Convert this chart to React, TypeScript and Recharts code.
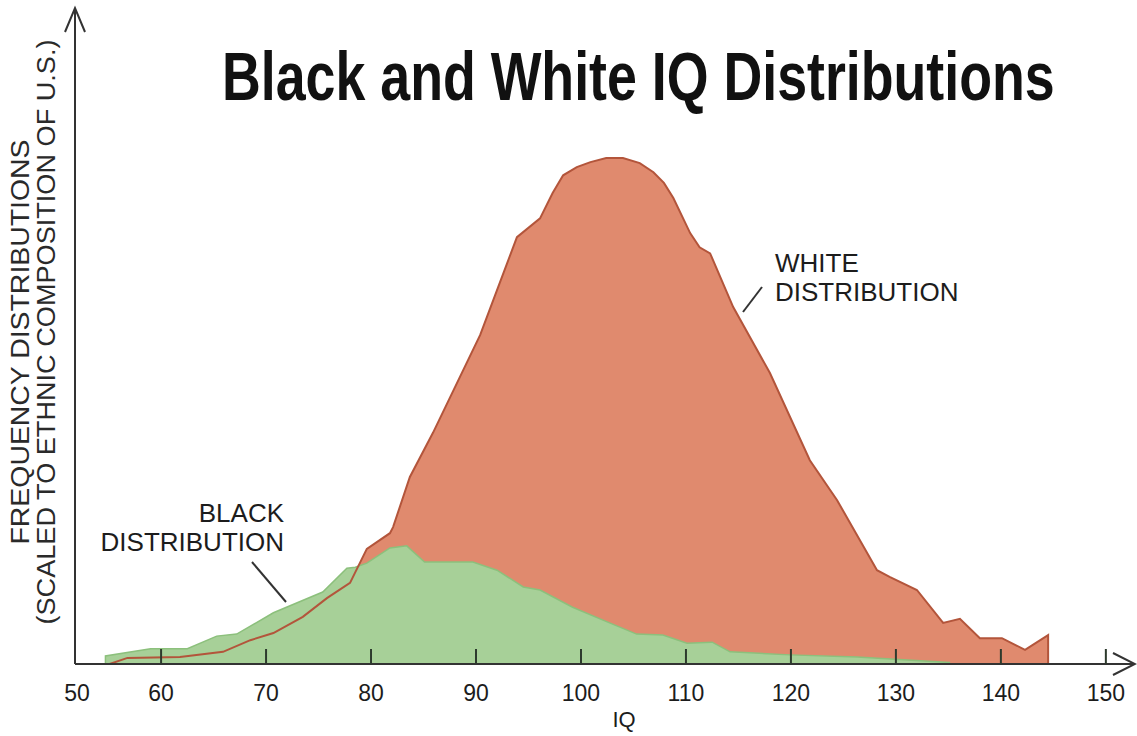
import { Area, ComposedChart, Line, XAxis, YAxis } from "recharts";

// White distribution (IQ, relative frequency; white peak ~= 100)
const whiteIq = [
	55.1, 56.8, 61.8, 65.9, 68.5, 70.7, 73.5, 75.8, 78, 79.6, 81.8, 82.1, 83.7,
	85.9, 90.4, 93.9, 96.1, 97.3, 98.3, 99.6, 100.9, 102.4, 104, 105.6, 106.9,
	107.9, 108.8, 110.4, 111.3, 112.3, 114.5, 118, 121.8, 124.4, 128.2, 129.4,
	132, 134.5, 136.1, 138, 140.1, 142.3, 144.5, 144.5,
];
const whiteFreq = [
	0, 1.2, 1.4, 2.4, 4.7, 6.1, 9.3, 13, 16, 22.7, 25.8, 27, 36.9, 45.6, 64.9,
	84.2, 87.9, 92.9, 96.4, 98, 99, 99.8, 99.8, 98.8, 97, 94.9, 91.9, 85, 82.2,
	81, 70.4, 57.4, 40.2, 32.3, 18.5, 17.2, 14.6, 8.1, 8.9, 5.1, 5.1, 2.8, 5.7,
	0,
];

// Black distribution
const blackIq = [
	54.7, 54.7, 59, 62.5, 65.3, 67.2, 70.7, 75.4, 77.7, 78.5, 79.6, 81.8, 83.4,
	85.1, 89.7, 92, 94.5, 96.1, 99.2, 102.5, 105.3, 107.8, 110.1, 112.5, 114.2,
	119.9, 126.3, 135.1, 135.1,
];
const blackFreq = [
	0, 1.6, 3, 3, 5.5, 5.9, 10.1, 14.2, 18.9, 19.1, 19.9, 22.9, 23.3, 20.1, 20.1,
	18.5, 15.2, 14.6, 11.2, 8.3, 5.9, 5.7, 4.1, 4.3, 2.4, 1.8, 1.4, 0.3, 0,
];

const X_MIN = 51.8;
const X_MAX = 152.3;
const xTicks = [X_MIN, 60, 70, 80, 90, 100, 110, 120, 130, 140, 150];
const xTickLabels = ["50", "60", "70", "80", "90", "100", "110", "120", "130", "140", "150"];

const whiteData = whiteIq.map((iq, i) => ({ iq, freq: whiteFreq[i] }));
const blackData = blackIq.map((iq, i) => ({ iq, freq: blackFreq[i] }));

const FONT = "'Liberation Sans', Arial, sans-serif";
const AXIS = "#333";
const INK = "#1c1c1c";

function IqTick(props: any) {
	const { x, y, payload } = props;
	const idx = xTicks.indexOf(payload.value);
	const isOrigin = payload.value === X_MIN;
	return (
		<g>
			{!isOrigin && (
				<line x1={x} x2={x} y1={y} y2={y - 15} stroke="#2d3a2d" strokeWidth={2} />
			)}
			<text
				x={x + (isOrigin ? 2 : 0)}
				y={y + 37}
				textAnchor="middle"
				fontSize={23}
				fontFamily={FONT}
				fill={INK}
			>
				{xTickLabels[idx]}
			</text>
		</g>
	);
}

export default function App() {
	return (
		<div
			style={{
				position: "fixed",
				left: 0,
				top: 0,
				width: 1137,
				height: 736,
				background: "#fff",
				overflow: "hidden",
			}}
		>
			<ComposedChart
				width={1137}
				height={736}
				margin={{ top: 10, right: 7, bottom: 32, left: 65 }}
			>
				<Area
					data={whiteData}
					dataKey="freq"
					type="linear"
					fill="#e08a6e"
					fillOpacity={1}
					stroke="none"
					isAnimationActive={false}
				/>
				<Area
					data={blackData}
					dataKey="freq"
					type="linear"
					fill="#a7d098"
					fillOpacity={1}
					stroke="#8cc07c"
					strokeWidth={1.5}
					isAnimationActive={false}
				/>
				<Line
					data={whiteData}
					dataKey="freq"
					type="linear"
					stroke="#b3553b"
					strokeWidth={2}
					dot={false}
					activeDot={false}
					isAnimationActive={false}
				/>
				<XAxis
					type="number"
					dataKey="iq"
					domain={[X_MIN, X_MAX]}
					ticks={xTicks}
					interval={0}
					tick={<IqTick />}
					tickLine={false}
					tickSize={0}
					tickMargin={0}
					height={40}
					allowDataOverflow
					axisLine={{ stroke: AXIS, strokeWidth: 2 }}
				/>
				<YAxis
					type="number"
					domain={[0, 129]}
					tick={false}
					tickLine={false}
					width={10}
					allowDataOverflow
					axisLine={{ stroke: AXIS, strokeWidth: 2 }}
				/>
			</ComposedChart>

			<svg
				width={1137}
				height={736}
				style={{ position: "absolute", left: 0, top: 0, pointerEvents: "none" }}
			>
				{/* condensed bold title: natural width squeezed horizontally */}
				<g transform="translate(222,100) scale(0.79,1)">
					<text
						x={0}
						y={0}
						fontSize={68}
						fontWeight="bold"
						fontFamily={FONT}
						fill="#111"
						textLength={1054}
						lengthAdjust="spacingAndGlyphs"
					>
						Black and White IQ Distributions
					</text>
				</g>

				<text
					transform="translate(29,342) rotate(-90)"
					textAnchor="middle"
					fontSize={26}
					fontFamily={FONT}
					fill="#2a2a2a"
					textLength={405}
					lengthAdjust="spacingAndGlyphs"
				>
					FREQUENCY DISTRIBUTIONS
				</text>
				<text
					transform="translate(55,332) rotate(-90)"
					textAnchor="middle"
					fontSize={26}
					fontFamily={FONT}
					fill="#2a2a2a"
					textLength={585}
					lengthAdjust="spacingAndGlyphs"
				>
					(SCALED TO ETHNIC COMPOSITION OF U.S.)
				</text>

				{/* axis arrow heads */}
				<polyline points="65,32 75,8 85,32" fill="none" stroke={AXIS} strokeWidth={2} />
				<line x1={75} x2={75} y1={8} y2={12} stroke={AXIS} strokeWidth={2} />
				<polyline points="1113,653 1135,664 1113,675" fill="none" stroke={AXIS} strokeWidth={2} />
				<line x1={1128} x2={1135} y1={664} y2={664} stroke={AXIS} strokeWidth={2} />

				<text x={624} y={727} textAnchor="middle" fontSize={22} fontFamily={FONT} fill={INK}>
					IQ
				</text>

				<text x={775} y={272} fontSize={26} fontFamily={FONT} fill={INK}>
					WHITE
				</text>
				<text x={775} y={301} fontSize={26} fontFamily={FONT} fill={INK}>
					DISTRIBUTION
				</text>
				<line x1={762} y1={287} x2={743} y2={312} stroke="#333" strokeWidth={2} />

				<text x={284} y={522} textAnchor="end" fontSize={26} fontFamily={FONT} fill={INK}>
					BLACK
				</text>
				<text x={284} y={551} textAnchor="end" fontSize={26} fontFamily={FONT} fill={INK}>
					DISTRIBUTION
				</text>
				<line x1={252} y1={562} x2={286} y2={602} stroke="#333" strokeWidth={2} />
			</svg>
		</div>
	);
}
